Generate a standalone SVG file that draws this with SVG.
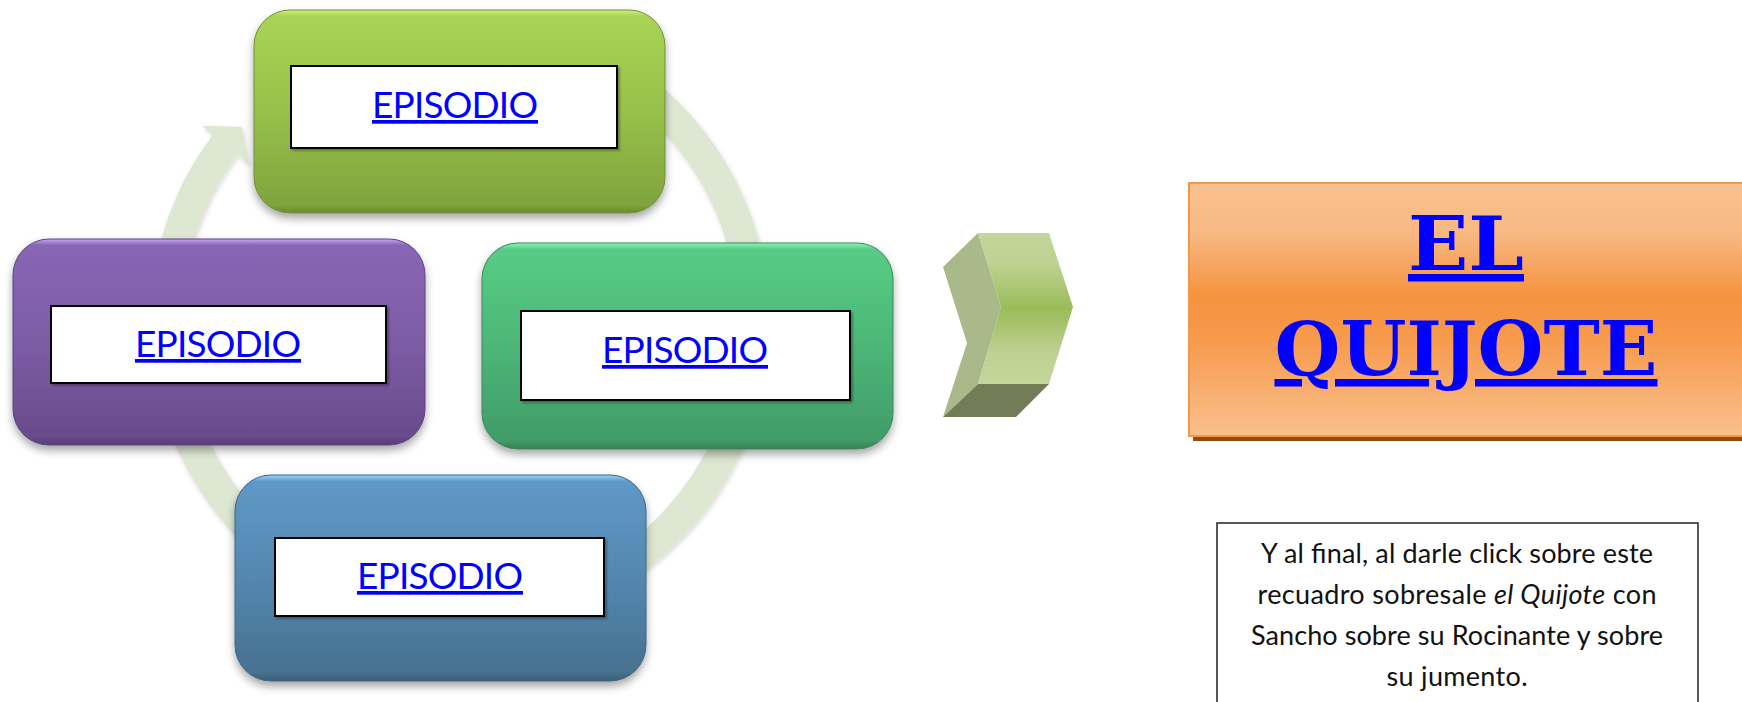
<svg xmlns="http://www.w3.org/2000/svg" width="1742" height="702" viewBox="0 0 1742 702">
<defs>
  <linearGradient id="gTop" x1="0" y1="0" x2="0" y2="1">
    <stop offset="0" stop-color="#d2f07c"/>
    <stop offset="0.03" stop-color="#aad455"/>
    <stop offset="0.5" stop-color="#97c04b"/>
    <stop offset="0.96" stop-color="#80a43d"/>
    <stop offset="1" stop-color="#6a8a32"/>
  </linearGradient>
  <linearGradient id="gPurple" x1="0" y1="0" x2="0" y2="1">
    <stop offset="0" stop-color="#c7a4f5"/>
    <stop offset="0.03" stop-color="#8966b5"/>
    <stop offset="0.5" stop-color="#7d5ca6"/>
    <stop offset="0.96" stop-color="#694b8b"/>
    <stop offset="1" stop-color="#573c75"/>
  </linearGradient>
  <linearGradient id="gTeal" x1="0" y1="0" x2="0" y2="1">
    <stop offset="0" stop-color="#90f7b9"/>
    <stop offset="0.03" stop-color="#56cc86"/>
    <stop offset="0.5" stop-color="#4cb677"/>
    <stop offset="0.96" stop-color="#419c68"/>
    <stop offset="1" stop-color="#357f55"/>
  </linearGradient>
  <linearGradient id="gBlue" x1="0" y1="0" x2="0" y2="1">
    <stop offset="0" stop-color="#9cd8ff"/>
    <stop offset="0.03" stop-color="#5f99c6"/>
    <stop offset="0.5" stop-color="#5487b0"/>
    <stop offset="0.96" stop-color="#47718f"/>
    <stop offset="1" stop-color="#3a5d77"/>
  </linearGradient>
  <linearGradient id="gOrange" x1="0" y1="0" x2="0" y2="1">
    <stop offset="0" stop-color="#f9c190"/>
    <stop offset="0.2" stop-color="#f8b882"/>
    <stop offset="0.45" stop-color="#f5923e"/>
    <stop offset="0.6" stop-color="#f6994a"/>
    <stop offset="1" stop-color="#f9bf8d"/>
  </linearGradient>
  <linearGradient id="gChev" x1="0" y1="0" x2="0" y2="1">
    <stop offset="0" stop-color="#c3d69b"/>
    <stop offset="0.2" stop-color="#bed293"/>
    <stop offset="0.5" stop-color="#9bbb59"/>
    <stop offset="0.8" stop-color="#bed293"/>
    <stop offset="1" stop-color="#c3d69b"/>
  </linearGradient>
  <filter id="shadow" x="-10%" y="-10%" width="120%" height="130%">
    <feDropShadow dx="0" dy="5" stdDeviation="4" flood-color="#000" flood-opacity="0.35"/>
  </filter>
  <filter id="ishadow" x="-5%" y="-10%" width="115%" height="130%">
    <feDropShadow dx="2" dy="2" stdDeviation="1" flood-color="#000" flood-opacity="0.3"/>
  </filter>
  <filter id="rshadow" x="-10%" y="-10%" width="120%" height="120%">
    <feDropShadow dx="1" dy="2" stdDeviation="2" flood-color="#000" flood-opacity="0.15"/>
  </filter>
</defs>
<style>
  .box { filter: url(#shadow); }
  .inner { fill: #ffffff; stroke: #000000; stroke-width: 2; filter: url(#ishadow); }
  .ep { font-family: Lato, "Liberation Sans", sans-serif; font-size: 37px; fill: #0000ff; text-decoration: underline; text-anchor: middle; }
  .desc { font-family: Lato, "Liberation Sans", sans-serif; font-size: 27px; fill: #111111; text-anchor: middle; }
  .title { font-family: "DejaVu Serif", "Liberation Serif", serif; font-weight: bold; font-size: 75px; fill: #0000ff; text-decoration: underline; text-anchor: middle; }
</style>

<g id="connectors">
  <path id="cycle-arrow" d="M 269.1 77.7 A 310 310 0 1 1 212.4 135.4 L 202.3 125.7 L 242 127 L 249.4 166.2 L 238 154.7 A 278 278 0 1 0 288.8 102.9 Z" fill="#dee7d2" filter="url(#rshadow)"/>
  <g id="chevron">
    <polygon points="943,267 978,233 1001,307 978,384 943,417 967,343" fill="#a9b98a"/>
    <polygon points="978,384 1049,384 1016,417 943,417" fill="#727d58"/>
    <polygon points="978,233 1049,233 1073,307 1049,384 978,384 1001,307" fill="url(#gChev)"/>
  </g>
</g>

<g id="node-top">
  <rect class="box" x="254" y="10" width="411" height="203" rx="36" fill="url(#gTop)" stroke="#6f8f35" stroke-width="1"/>
  <rect class="inner" x="291" y="66" width="326" height="82"/>
  <text class="ep" x="455" y="118" textLength="166">EPISODIO</text>
</g>

<g id="node-left">
  <rect class="box" x="13" y="239" width="412" height="206" rx="36" fill="url(#gPurple)" stroke="#5c4280" stroke-width="1"/>
  <rect class="inner" x="51" y="306" width="335" height="77"/>
  <text class="ep" x="218" y="357" textLength="166">EPISODIO</text>
</g>

<g id="node-right">
  <rect class="box" x="482" y="243" width="411" height="206" rx="36" fill="url(#gTeal)" stroke="#38875a" stroke-width="1"/>
  <rect class="inner" x="521" y="311" width="329" height="89"/>
  <text class="ep" x="685" y="363" textLength="166">EPISODIO</text>
</g>

<g id="node-bottom">
  <rect class="box" x="235" y="475" width="411" height="206" rx="36" fill="url(#gBlue)" stroke="#3d6480" stroke-width="1"/>
  <rect class="inner" x="275" y="538" width="329" height="78"/>
  <text class="ep" x="440" y="589" textLength="166">EPISODIO</text>
</g>

<g id="node-quijote">
  <rect x="1193" y="187" width="560" height="254" fill="#984807"/>
  <rect x="1189" y="183" width="560" height="253" fill="url(#gOrange)" stroke="#f79646" stroke-width="2"/>
  <text class="title" x="1466" y="270" textLength="116" lengthAdjust="spacingAndGlyphs">EL</text>
  <text class="title" x="1466" y="375" textLength="383" lengthAdjust="spacingAndGlyphs">QUIJOTE</text>
</g>

<g id="note">
  <rect x="1217" y="523" width="481" height="200" fill="#ffffff" stroke="#222222" stroke-width="1.5"/>
  <text class="desc" x="1457" y="563" textLength="392">Y al final, al darle click sobre este</text>
  <text class="desc" x="1457" y="604" textLength="399">recuadro sobresale <tspan font-style="italic">el Quijote</tspan> con</text>
  <text class="desc" x="1457" y="645" textLength="412">Sancho sobre su Rocinante y sobre</text>
  <text class="desc" x="1457" y="686" textLength="141">su jumento.</text>
</g>
</svg>
